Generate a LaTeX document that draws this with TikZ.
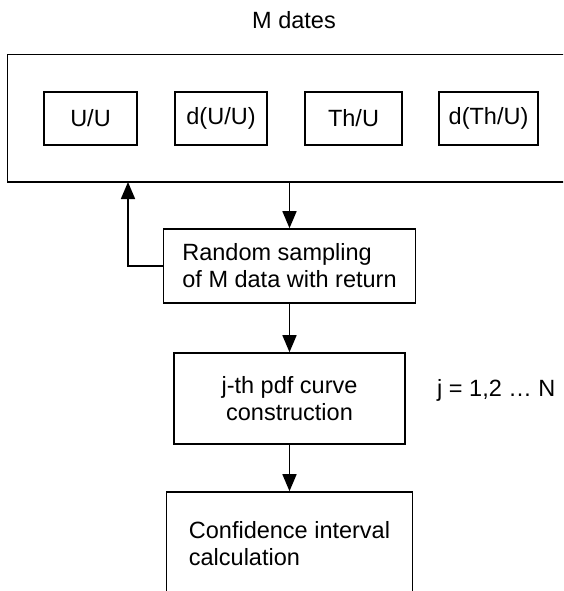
\documentclass[tikz,border=0pt]{standalone}
\usepackage{fontspec}
\setmainfont{Liberation Sans}
\usetikzlibrary{arrows.meta}

\newlength{\du}
\setlength{\du}{1pt}

\tikzset{
  box/.style={draw, line width=1.6pt, inner sep=0pt, align=center},
  txt/.style={inner sep=0pt, align=left},
  flow/.style={line width=1.6pt, -{Triangle[width=14pt,length=17pt]}},
}

\begin{document}
\begin{tikzpicture}[x=1\du, y=-1\du, font=\fontsize{23.5}{27}\selectfont]
\clip (0,0) rectangle (563,591);
% title
\node[txt] (title) at (294,20) {M dates};
% data block
\node[box, minimum width=567.5\du, minimum height=127.5\du] (data) at (291.25,118.25) {};
\node[box, minimum width=93\du, minimum height=53\du] (uu) at (90.5,118.5) {U/U};
\node[box, minimum width=92\du, minimum height=53\du] (duu) at (221,118.5) {d(U/U)};
\node[box, minimum width=97\du, minimum height=53\du] (thu) at (353.5,118.5) {Th/U};
\node[box, minimum width=99\du, minimum height=53\du] (dthu) at (488.5,118.5) {d(Th/U)};
% steps
\node[box, align=left, minimum width=252\du, minimum height=74\du] (sample) at (289.5,266) {Random sampling\\of M data with return};
\node[box, minimum width=231\du, minimum height=91\du] (pdf) at (289.5,398.5) {j-th pdf curve\\construction};
\node[txt, anchor=west] (count) at (437,390) {j = 1,2 \ldots{} N};
\node[box, align=left, minimum width=246\du, minimum height=103\du] (conf) at (289.5,543.5) {Confidence interval\\calculation};
% connectors
\coordinate (back) at (128,182);
\draw[flow] (sample.north |- data.south) -- (sample.north);
\draw[flow] (sample.west) -| (back);
\draw[flow] (sample.south) -- (pdf.north);
\draw[flow] (pdf.south) -- (conf.north);
\end{tikzpicture}
\end{document}
